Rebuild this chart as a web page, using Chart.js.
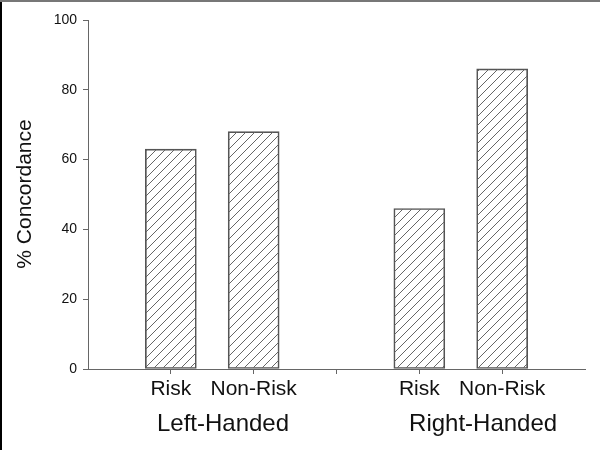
<!DOCTYPE html>
<html>
<head>
<meta charset="utf-8">
<script src="https://cdn.jsdelivr.net/npm/chart.js@4"></script>
<style>
  html, body { margin: 0; padding: 0; background: #fff; }
  #wrap { width: 600px; height: 450px; position: relative; }
</style>
</head>
<body>
<div id="wrap"><canvas id="chart" width="600" height="450"></canvas></div>
<script>
// values
const barPositions = [1, 2, 4, 5];
const concordance = [63, 68, 46, 86];
const xTickLabels = ['', 'Risk', 'Non-Risk', '', 'Risk', 'Non-Risk', ''];
const groupLabels = ['Left-Handed', 'Right-Handed'];
const groupLabelPos = [1.63, 4.77];
const yTicks = [0, 20, 40, 60, 80, 100];

// diagonal hatch fill
function makeHatch() {
    const s = 9;
    const c = document.createElement('canvas');
    c.width = s; c.height = s;
    const g = c.getContext('2d');
    g.strokeStyle = '#666';
    g.lineWidth = 1;
    g.beginPath();
    g.moveTo(0, s); g.lineTo(s, 0);
    g.moveTo(-s, s); g.lineTo(0, 0);
    g.moveTo(0, 2 * s); g.lineTo(2 * s, 0);
    g.stroke();
    return g.createPattern(c, 'repeat');
}

const extras = {
    id: 'extras',
    afterDraw(chart) {
        const ctx = chart.ctx;
        const x = chart.scales.x;
        ctx.save();
        // frame edges
        ctx.fillStyle = '#000';
        ctx.fillRect(0, 0, 2, 450);
        ctx.fillStyle = '#777';
        ctx.fillRect(0, 0, 600, 2);

        ctx.fillStyle = '#111';
        ctx.textAlign = 'center';
        ctx.textBaseline = 'middle';
        ctx.font = '24px "Liberation Sans", Arial, sans-serif';
        groupLabels.forEach((t, i) => {
            ctx.fillText(t, x.getPixelForValue(groupLabelPos[i]), 424);
        });

        ctx.translate(25, 194);
        ctx.rotate(-Math.PI / 2);
        ctx.font = '21px "Liberation Sans", Arial, sans-serif';
        ctx.fillText('% Concordance', 0, 0);
        ctx.restore();
    }
};

new Chart(document.getElementById('chart'), {
    type: 'bar',
    data: {
        datasets: [{
            data: barPositions.map((p, i) => ({ x: p, y: concordance[i] })),
            backgroundColor: makeHatch(),
            borderColor: '#555',
            borderWidth: 1,
            borderSkipped: false,
            barThickness: 51
        }]
    },
    options: {
        responsive: false,
        animation: false,
        layout: { padding: { top: 20, right: 15, left: 0, bottom: 0 } },
        plugins: { legend: { display: false }, tooltip: { enabled: false } },
        scales: {
            x: {
                type: 'linear',
                min: 0,
                max: 6,
                offset: false,
                afterFit: s => { s.height = 81; },
                afterBuildTicks: s => { s.ticks = xTickLabels.map((_, i) => ({ value: i })); },
                grid: {
                    offset: false,
                    drawOnChartArea: false,
                    tickLength: 5,
                    color: c => (c.tick && (c.tick.value === 0 || c.tick.value === 6)) ? 'rgba(0,0,0,0)' : '#666'
                },
                border: { color: '#666', width: 1 },
                ticks: {
                    autoSkip: false,
                    maxRotation: 0,
                    padding: 3,
                    color: '#111',
                    font: { family: '"Liberation Sans", Arial, sans-serif', size: 21 },
                    callback: v => xTickLabels[v] || ''
                }
            },
            y: {
                min: 0,
                max: 100,
                afterFit: s => { s.width = 88; },
                afterBuildTicks: s => { s.ticks = yTicks.map(v => ({ value: v })); },
                grid: { drawOnChartArea: false, tickLength: 5, color: '#666' },
                border: { color: '#666', width: 1 },
                ticks: {
                    padding: 6,
                    color: '#111',
                    font: { family: '"Liberation Sans", Arial, sans-serif', size: 14 }
                }
            }
        }
    },
    plugins: [extras]
});
</script>
</body>
</html>
